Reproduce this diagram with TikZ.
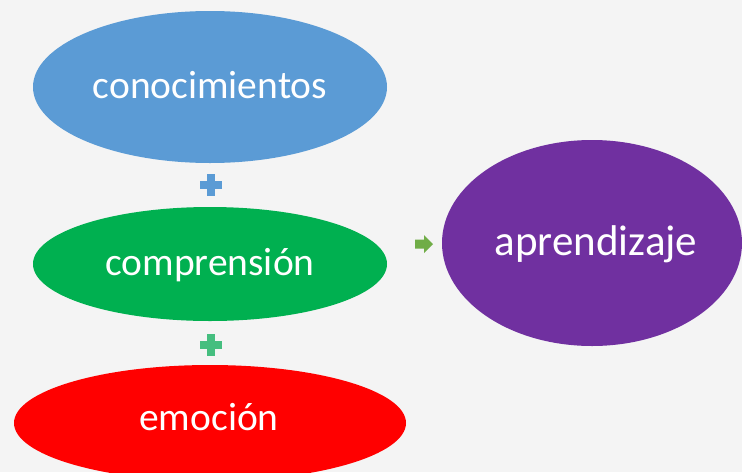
\documentclass[tikz,border=0pt]{standalone}
\usepackage{fontspec}
\setmainfont{Carlito}
\usetikzlibrary{shapes.geometric}
\definecolor{bg}{HTML}{F4F4F4}
\definecolor{cblue}{HTML}{5B9BD5}
\definecolor{cgreen}{HTML}{00B050}
\definecolor{cred}{HTML}{FF0000}
\definecolor{cpurple}{HTML}{7030A0}
\definecolor{pblue}{HTML}{5B9BD5}
\definecolor{pgreen}{HTML}{45BE7F}
\definecolor{agreen}{HTML}{70AD47}
\tikzset{
  oval/.style={ellipse, inner sep=0pt, outer sep=0pt, draw=none},
  lbl/.style={text=white, anchor=base, inner sep=0pt, font=\fontsize{39.5}{40}\selectfont},
  plusmark/.style={fill=#1, draw=none},
}
\begin{document}
\begin{tikzpicture}[x=1pt,y=-1pt]
\useasboundingbox (0,0) rectangle (742,472);
\fill[bg] (0,0) rectangle (742,472);
\begin{scope}
\clip (0,0) rectangle (742,472);
\node[oval, fill=cblue, minimum width=354pt, minimum height=152pt] (kn) at (210,87) {};
\node[oval, fill=cgreen, minimum width=354pt, minimum height=114pt] (co) at (210,264) {};
\node[oval, fill=cred, minimum width=392pt, minimum height=116pt] (em) at (210,423) {};
\node[oval, fill=cpurple, minimum width=300pt, minimum height=206pt] (ap) at (592,243) {};
\end{scope}
\node[lbl] (tkn) at (210,98) {conocimientos};
\node[lbl] (tco) at (210,275) {comprensión};
\node[lbl] (tem) at (209,430) {emoción};
\node[lbl, font=\fontsize{43}{44}\selectfont] (tap) at (596,255) {aprendizaje};
% plus signs
\coordinate (p1) at (211,185);
\coordinate (p2) at (211,345);
\fill[pblue] ([xshift=-11pt,yshift=-3.8pt]p1) rectangle ([xshift=11pt,yshift=3.8pt]p1);
\fill[pblue] ([xshift=-3.8pt,yshift=-11pt]p1) rectangle ([xshift=3.8pt,yshift=11pt]p1);
\fill[pgreen] ([xshift=-11pt,yshift=-3.8pt]p2) rectangle ([xshift=11pt,yshift=3.8pt]p2);
\fill[pgreen] ([xshift=-3.8pt,yshift=-11pt]p2) rectangle ([xshift=3.8pt,yshift=11pt]p2);
% arrow
\coordinate (ar) at (424,244);
\fill[agreen] ([xshift=-9pt,yshift=-4.5pt]ar) -- ([xshift=0pt,yshift=-4.5pt]ar) -- ([xshift=0pt,yshift=-9pt]ar)
  -- ([xshift=9pt]ar) -- ([xshift=0pt,yshift=9pt]ar) -- ([xshift=0pt,yshift=4.5pt]ar) -- ([xshift=-9pt,yshift=4.5pt]ar) -- cycle;
\end{tikzpicture}
\end{document}
